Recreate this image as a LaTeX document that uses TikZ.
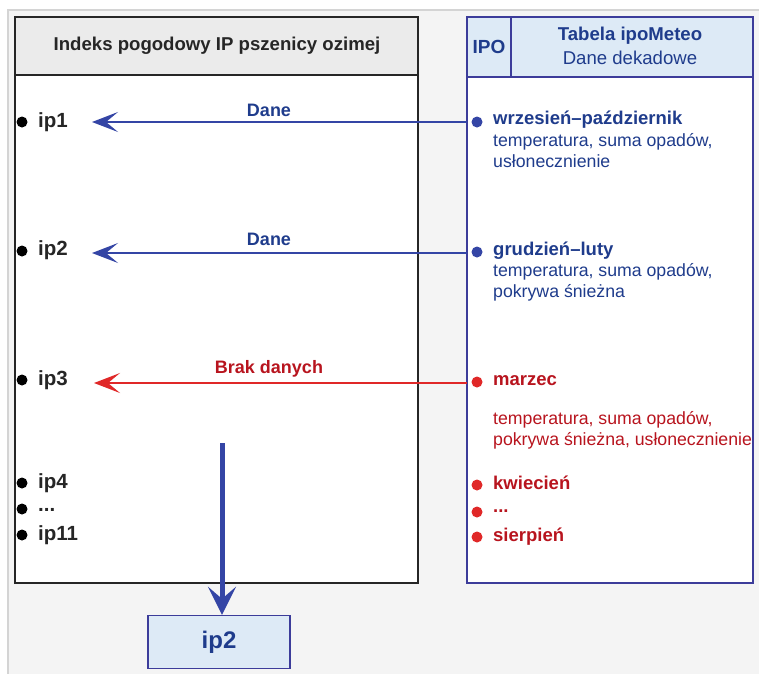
\documentclass[tikz,border=0pt]{standalone}
\usepackage{fontspec}
\setmainfont{Liberation Sans}
\usetikzlibrary{arrows.meta}
\definecolor{bgray}{HTML}{F4F4F4}
\definecolor{frameg}{HTML}{D4D4D4}
\definecolor{hdgray}{HTML}{EBEBEB}
\definecolor{hdblue}{HTML}{DDEAF6}
\definecolor{txblue}{HTML}{1F3C8C}
\definecolor{arblue}{HTML}{3445A5}
\definecolor{bxblue}{HTML}{3C3C9A}
\definecolor{txred}{HTML}{B8141E}
\definecolor{arred}{HTML}{E02828}
\tikzset{
  x=1pt, y=-1pt,
  lbl/.style={anchor=west, inner sep=0pt, font=\fontsize{20.5}{24}\selectfont\bfseries},
  rtxt/.style={anchor=west, inner sep=0pt, align=left, font=\fontsize{17.7}{21}\selectfont},
  rbold/.style={anchor=west, inner sep=0pt, font=\fontsize{18.5}{21}\selectfont\bfseries},
  bdot/.style={circle, fill=black, inner sep=0pt, minimum size=11pt},
  dotb/.style={circle, fill=arblue, inner sep=0pt, minimum size=11pt},
  dotr/.style={circle, fill=arred, inner sep=0pt, minimum size=11pt},
  arr/.style={line width=1.4pt, -{Stealth[length=26pt,width=20pt,inset=12pt]}},
  hfont/.style={font=\fontsize{18.6}{21}\selectfont\bfseries},
}
\begin{document}
\begin{tikzpicture}
\useasboundingbox (0,0) rectangle (759,673);
\fill[white] (0,0) rectangle (759,673);
\fill[bgray, draw=frameg, line width=1.2pt] (8,10) rectangle (762,676);

% left box
\fill[white] (15,17) rectangle (418,583);
\fill[hdgray] (15,17) rectangle (418,75);
\draw[black!85, line width=1.6pt] (15,17) rectangle (418,583);
\draw[black!85, line width=1.6pt] (15,75) -- (418,75);
\node[hfont, text=black!85] (lhead) at (217,46) {Indeks pogodowy IP pszenicy ozimej};

% right box
\fill[white] (467,17) rectangle (753,583);
\fill[hdblue] (467,17) rectangle (753,77);
\draw[bxblue, line width=1.4pt] (467,17) rectangle (753,583);
\draw[bxblue, line width=1.4pt] (467,77) -- (753,77);
\draw[bxblue, line width=1.4pt] (511,17) -- (511,77);
\node[hfont, font=\fontsize{19}{21}\selectfont\bfseries, text=txblue] (ipo) at (489,47) {IPO};
\node[hfont, text=txblue] (tab) at (630,36) {Tabela ipoMeteo};
\node[font=\fontsize{18.6}{21}\selectfont, text=txblue] (dek) at (630,58) {Dane dekadowe};

% left items
\node[bdot] (b1) at (22,122) {};
\node[lbl, text=black!85] (ip1) at (38,122) {ip1};
\node[bdot] (b2) at (22,251) {};
\node[lbl, text=black!85] (ip2) at (38,250) {ip2};
\node[bdot] (b3) at (22,380) {};
\node[lbl, text=black!85] (ip3) at (38,380) {ip3};
\node[bdot] (b4) at (22,483) {};
\node[lbl, text=black!85] (ip4) at (38,483) {ip4};
\node[bdot] (b5) at (22,509) {};
\node[lbl, text=black!85] (ipd) at (38,510) {...};
\node[bdot] (b6) at (22,535) {};
\node[lbl, text=black!85] (ip11) at (38,535) {ip11};

% right items
\node[dotb] (r1) at (477,122) {};
\node[rbold, text=txblue] (m1) at (493,120) {wrzesień–październik};
\node[rtxt, text=txblue, anchor=north west] (t1) at (493,133) {temperatura, suma opadów,\\usłonecznienie};
\node[dotb] (r2) at (477,252) {};
\node[rbold, text=txblue] (m2) at (493,251) {grudzień–luty};
\node[rtxt, text=txblue, anchor=north west] (t2) at (493,263) {temperatura, suma opadów,\\pokrywa śnieżna};
\node[dotr] (r3) at (477,382) {};
\node[rbold, text=txred] (m3) at (493,381) {marzec};
\node[rtxt, text=txred, anchor=north west] (t3) at (493,411) {temperatura, suma opadów,\\pokrywa śnieżna, usłonecznienie};
\node[dotr] (r4) at (477,485) {};
\node[rbold, text=txred] (m4) at (493,483) {kwiecień};
\node[dotr] (r5) at (477,512) {};
\node[rbold, text=txred] (m5) at (493,511) {...};
\node[dotr] (r6) at (477,537) {};
\node[rbold, text=txred] (m6) at (493,537) {sierpień};

% arrows
\coordinate (e1) at (467,122);
\coordinate (e2) at (467,253);
\coordinate (e3) at (467,383);
\coordinate (a1) at (92,122);
\coordinate (a2) at (92,253);
\coordinate (a3) at (94,383);
\draw[arr, arblue] (e1) -- (a1);
\draw[arr, arblue] (e2) -- (a2);
\draw[arr, arred] (e3) -- (a3);
\node[font=\fontsize{18}{21}\selectfont\bfseries, text=txblue] (d1) at (269,110) {Dane};
\node[font=\fontsize{18}{21}\selectfont\bfseries, text=txblue] (d2) at (269,239) {Dane};
\node[font=\fontsize{18}{21}\selectfont\bfseries, text=txred] (d3) at (269,369) {Brak danych};

% result box
\node[draw=bxblue, line width=1.4pt, fill=hdblue, minimum width=142pt, minimum height=53pt,
      font=\fontsize{24}{26}\selectfont\bfseries, text=txblue] (res) at (219,642) {ip2};
\coordinate (vs) at (222,443);
\draw[line width=5pt, arblue, -{Stealth[length=28pt,width=28pt,inset=12pt]}] (vs) -- (res.north -| vs);
\end{tikzpicture}
\end{document}
